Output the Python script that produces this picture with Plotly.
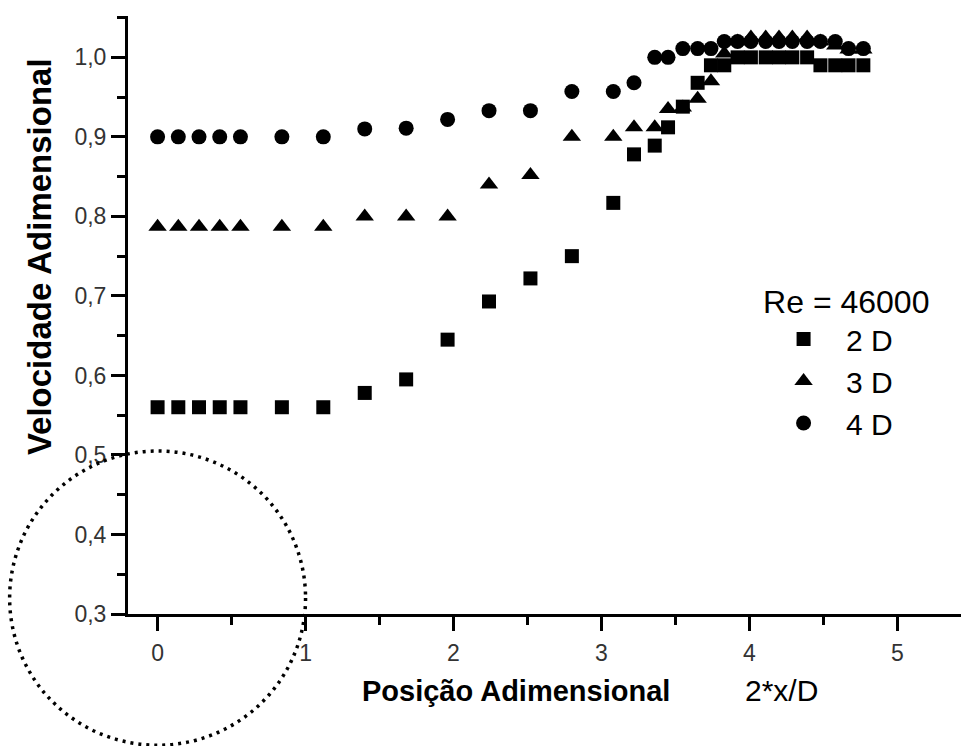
import plotly.graph_objects as go

# Dimensionless position 2*x/D of each measuring station
posicao = [0.00, 0.14, 0.28, 0.42, 0.56, 0.84, 1.12, 1.40, 1.68, 1.96, 2.24,
           2.52, 2.80, 3.08, 3.22, 3.36, 3.45, 3.55, 3.65, 3.74, 3.83, 3.92,
           4.01, 4.11, 4.20, 4.29, 4.39, 4.48, 4.58, 4.67, 4.77]

# Dimensionless velocity for each nozzle-to-plate distance (Re = 46000)
vel_2d = [0.560, 0.560, 0.560, 0.560, 0.560, 0.560, 0.560, 0.578, 0.595, 0.645,
          0.693, 0.722, 0.750, 0.817, 0.878, 0.889, 0.912, 0.938, 0.968, 0.990,
          0.990, 1.000, 1.000, 1.000, 1.000, 1.000, 1.000, 0.990, 0.990, 0.990,
          0.990]
vel_3d = [0.787, 0.787, 0.787, 0.787, 0.787, 0.787, 0.787, 0.800, 0.800, 0.800,
          0.840, 0.852, 0.900, 0.900, 0.912, 0.912, 0.935, 0.937, 0.948, 0.970,
          1.005, 1.020, 1.025, 1.025, 1.025, 1.025, 1.025, 1.020, 1.015, 1.010,
          1.010]
vel_4d = [0.900, 0.900, 0.900, 0.900, 0.900, 0.900, 0.900, 0.910, 0.911, 0.922,
          0.933, 0.933, 0.957, 0.957, 0.968, 1.000, 1.000, 1.011, 1.011, 1.011,
          1.020, 1.020, 1.020, 1.020, 1.020, 1.020, 1.020, 1.020, 1.020, 1.011,
          1.011]

series_names = ["2 D", "3 D", "4 D"]
x_ticks = [0, 1, 2, 3, 4, 5]
y_ticks = [0.3, 0.4, 0.5, 0.6, 0.7, 0.8, 0.9, 1.0]

# Highlighted region around the jet axis (dotted ellipse)
destaque_centro = (0.0, 0.32)
destaque_raio_x = 1.0
destaque_raio_y = 0.185

X_RANGE = [-0.2, 5.43]
Y_RANGE = [0.3, 1.052]

FONT = "Liberation Sans, Arial, sans-serif"

fig = go.Figure()
symbols = ["square", "triangle-up", "circle"]
sizes = [14, 16, 15]
for name, vals, sym, sz in zip(series_names, [vel_2d, vel_3d, vel_4d], symbols, sizes):
    fig.add_trace(go.Scatter(
        x=posicao, y=vals, name=name, mode="markers",
        marker=dict(symbol=sym, size=sz, color="black", line=dict(width=0)),
        cliponaxis=False,
    ))

# Ellipse in paper coordinates so it is not clipped by the plot area
xs = X_RANGE[1] - X_RANGE[0]
ys = Y_RANGE[1] - Y_RANGE[0]
cx, cy = destaque_centro
fig.add_shape(
    type="circle", xref="paper", yref="paper",
    x0=(cx - destaque_raio_x - X_RANGE[0]) / xs,
    x1=(cx + destaque_raio_x - X_RANGE[0]) / xs,
    y0=(cy - destaque_raio_y - Y_RANGE[0]) / ys,
    y1=(cy + destaque_raio_y - Y_RANGE[0]) / ys,
    line=dict(color="black", width=3.5, dash="3px,5px"),
    layer="above",
)

axis_common = dict(
    showline=True, linecolor="black", linewidth=3, mirror=False,
    showgrid=False, zeroline=False, ticks="outside", ticklen=14,
    tickwidth=3, tickcolor="black",
    tickfont=dict(family=FONT, size=23, color="#333333"),
)

fig.update_xaxes(
    range=X_RANGE, tickvals=x_ticks, tickformat="d",
    minor=dict(ticks="outside", ticklen=8, tickwidth=3, tickcolor="black", dtick=0.5,
               tick0=0),
    ticklabelstandoff=2,
    **axis_common,
)
fig.update_yaxes(
    range=Y_RANGE, tickvals=y_ticks, tickformat=".1f",
    minor=dict(ticks="outside", ticklen=8, tickwidth=3, tickcolor="black", dtick=0.05,
               tick0=0.3),
    **axis_common,
)

fig.add_annotation(
    text="<b>Velocidade Adimensional</b>", textangle=-90,
    xref="paper", yref="paper", x=-0.106, y=0.598,
    xanchor="center", yanchor="middle", showarrow=False,
    font=dict(family=FONT, size=33, color="black"),
)
fig.add_annotation(
    text="<b>Posição Adimensional</b>",
    xref="paper", yref="paper", x=0.466, y=-0.128,
    xanchor="center", yanchor="middle", showarrow=False,
    font=dict(family=FONT, size=29, color="black"),
)
fig.add_annotation(
    text="2*x/D",
    xref="paper", yref="paper", x=0.785, y=-0.128,
    xanchor="center", yanchor="middle", showarrow=False,
    font=dict(family=FONT, size=30, color="black"),
)

fig.update_layout(
    width=961, height=746,
    margin=dict(l=128, r=0, t=16, b=132),
    paper_bgcolor="white", plot_bgcolor="white",
    separators=",.",
    showlegend=True,
    legend=dict(
        title=dict(text="Re = 46000", font=dict(family=FONT, size=32, color="black")),
        font=dict(family=FONT, size=30, color="black"),
        x=0.76, y=0.573, xanchor="left", yanchor="top",
        bgcolor="rgba(0,0,0,0)", itemwidth=75, tracegroupgap=0,
    ),
)

fig.write_html("out.html")
